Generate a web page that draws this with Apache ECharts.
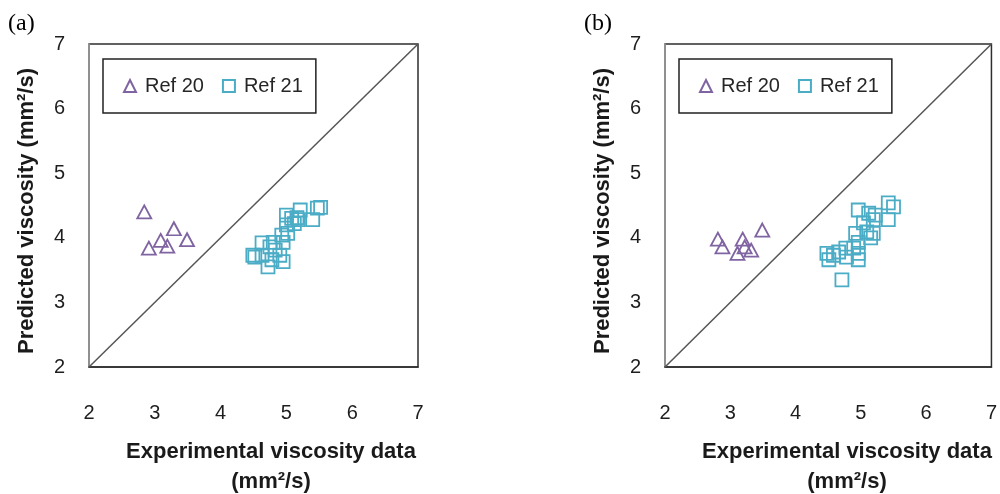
<!DOCTYPE html>
<html>
<head>
<meta charset="utf-8">
<script src="https://cdn.jsdelivr.net/npm/echarts@6/dist/echarts.min.js"></script>
<style>html,body{margin:0;padding:0;background:#fff;}#c{width:1000px;height:494px;}</style>
</head>
<body>
<div id="c"></div>
<script>
// ---- data ----
var axisTicks = [2, 3, 4, 5, 6, 7];
var diagonal = [[2, 2], [7, 7]];
var panelA_ref20 = [[2.84,4.40],[3.29,4.14],[3.09,3.96],[2.91,3.84],[3.19,3.87],[3.49,3.97]];
var panelA_ref21 = [[4.49,3.73],[4.52,3.70],[4.63,3.92],[4.63,3.73],[4.72,3.55],[4.75,3.86],[4.78,3.66],[4.80,3.93],[4.83,3.81],[4.90,3.73],[4.95,3.63],[4.95,3.93],[4.93,4.04],[5.02,4.07],[5.00,4.20],[5.00,4.35],[5.08,4.30],[5.12,4.22],[5.16,4.31],[5.21,4.43],[5.18,4.28],[5.40,4.28],[5.47,4.46],[5.52,4.47]];
var panelB_ref20 = [[2.81,3.98],[2.88,3.86],[3.11,3.76],[3.19,3.98],[3.22,3.86],[3.32,3.81],[3.49,4.12]];
var panelB_ref21 = [[4.48,3.76],[4.51,3.66],[4.58,3.73],[4.66,3.78],[4.71,3.35],[4.77,3.84],[4.78,3.70],[4.89,3.84],[4.92,4.07],[4.96,3.93],[4.96,3.76],[4.96,3.66],[4.96,4.43],[5.04,4.23],[5.09,4.09],[5.12,4.38],[5.15,4.00],[5.19,4.28],[5.19,4.07],[5.22,4.35],[5.42,4.28],[5.42,4.54],[5.50,4.48]];
var seriesNames = ['Ref 20', 'Ref 21'];
var panelLabels = ['(a)', '(b)'];
var xTitle = 'Experimental viscosity data';
var xUnit = '(mm²/s)';
var yTitle = 'Predicted viscosity (mm²/s)';

// ---- styling ----
var PURPLE = '#8064a2', AQUA = '#4bacc6';
var FONT = 'Liberation Sans';
var panels = [
  {left: 89, a20: panelA_ref20, a21: panelA_ref21},
  {left: 665, a20: panelB_ref20, a21: panelB_ref21}
];
var W = 329, TOP = 44, H = 323;

var option = {
  animation: false,
  grid: [], xAxis: [], yAxis: [], series: [], legend: [], graphic: []
};
panels.forEach(function (p, i) {
  option.grid.push({left: p.left, top: TOP, width: W, height: H, show: true,
    borderColor: '#2e2e2e', borderWidth: 1.5, backgroundColor: '#fff'});
  var common = {
    min: axisTicks[0], max: axisTicks[axisTicks.length - 1], interval: 1, gridIndex: i,
    splitLine: {show: false}, axisTick: {show: false}
  };
  option.xAxis.push(Object.assign({type: 'value',
    axisLine: {show: true, lineStyle: {color: '#2e2e2e', width: 1.5}},
    axisLabel: {margin: 36, fontSize: 20, color: '#1e1e1e', fontFamily: FONT}}, common));
  option.yAxis.push(Object.assign({type: 'value',
    axisLine: {show: true, lineStyle: {color: '#a0a0a0', width: 1.5}},
    axisLabel: {margin: 24, fontSize: 20, color: '#1e1e1e', fontFamily: FONT}}, common));
  option.series.push({type: 'line', data: diagonal, xAxisIndex: i, yAxisIndex: i,
    symbol: 'none', lineStyle: {color: '#555', width: 1.5}, silent: true, z: 1});
  option.series.push({type: 'scatter', name: seriesNames[0], data: p.a20, xAxisIndex: i, yAxisIndex: i,
    symbol: 'triangle', symbolSize: [14, 13],
    itemStyle: {color: 'rgba(0,0,0,0)', borderColor: PURPLE, borderWidth: 1.8, opacity: 1}, z: 3});
  option.series.push({type: 'scatter', name: seriesNames[1], data: p.a21, xAxisIndex: i, yAxisIndex: i,
    symbol: 'rect', symbolSize: 13,
    itemStyle: {color: 'rgba(0,0,0,0)', borderColor: AQUA, borderWidth: 1.8, opacity: 1}, z: 3});
  option.legend.push({
    left: p.left + 14, top: 59, orient: 'horizontal',
    data: [{name: seriesNames[0], icon: 'triangle'}, {name: seriesNames[1], icon: 'rect'}],
    itemWidth: 12, itemHeight: 12, itemGap: 18,
    padding: [17, 13, 17, 20],
    borderColor: '#222', borderWidth: 1.5, backgroundColor: '#fff',
    textStyle: {fontSize: 20, color: '#262626', fontFamily: FONT, padding: [0, 0, 0, 4]},
    selectedMode: false
  });
  option.graphic.push({type: 'text', left: p.left - 81, top: 12,
    style: {text: panelLabels[i], font: '24px "Liberation Serif"', fill: '#000'}});
  option.graphic.push({type: 'text', x: p.left + 182, y: 452,
    style: {text: xTitle, font: 'bold 22px "Liberation Sans"', fill: '#1a1a1a', align: 'center', verticalAlign: 'middle'}});
  option.graphic.push({type: 'text', x: p.left + 182, y: 482,
    style: {text: xUnit, font: 'bold 22px "Liberation Sans"', fill: '#1a1a1a', align: 'center', verticalAlign: 'middle'}});
  option.graphic.push({type: 'text', x: p.left - 62, y: 211, rotation: Math.PI / 2,
    style: {text: yTitle, font: 'bold 22px "Liberation Sans"', fill: '#1a1a1a', align: 'center', verticalAlign: 'middle'}});
});
var chart = echarts.init(document.getElementById('c'), null, {renderer: 'canvas'});
chart.setOption(option);
</script>
</body>
</html>
